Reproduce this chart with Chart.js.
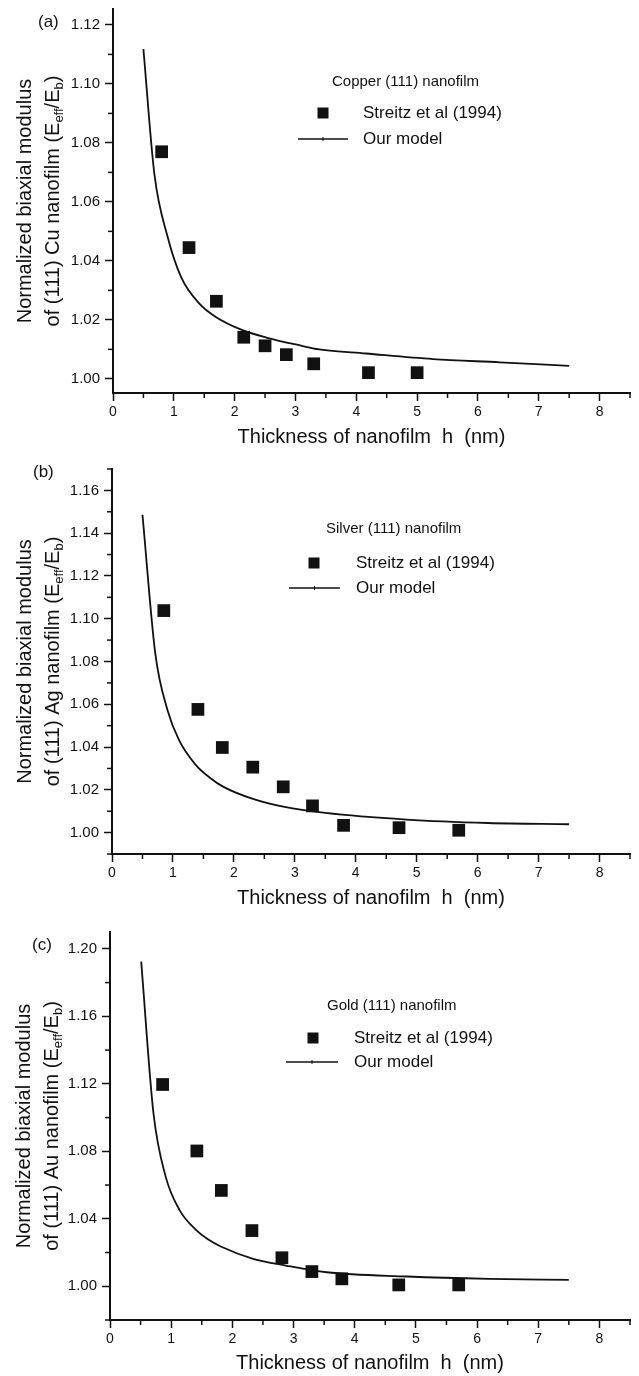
<!DOCTYPE html>
<html>
<head>
<meta charset="utf-8">
<script src="https://cdn.jsdelivr.net/npm/chart.js@4.4.1/dist/chart.umd.min.js"></script>
<style>
  body { margin: 0; background: #fff; }
  canvas { position: absolute; left: 0; }
</style>
</head>
<body>
<canvas id="chartA" width="639" height="455" style="top:0px"></canvas>
<canvas id="chartB" width="639" height="455" style="top:455px"></canvas>
<canvas id="chartC" width="639" height="466" style="top:910px"></canvas>
<script>
// ---- values ----
var xTickLabels = [0, 1, 2, 3, 4, 5, 6, 7, 8];

// (a) copper
var cuYTicks = [1.00, 1.02, 1.04, 1.06, 1.08, 1.10, 1.12];
var cuExpX = [0.8, 1.25, 1.7, 2.15, 2.5, 2.85, 3.3, 4.2, 5.0];
var cuExpY = [1.077, 1.0445, 1.0263, 1.0141, 1.0112, 1.0082, 1.0051, 1.0021, 1.0021];
var cuModelX = [0.5, 0.68, 0.9, 1.12, 1.42, 1.69, 2.13, 2.52, 3.06, 3.39, 4.16, 5.26, 6.36, 7.5];
var cuModelY = [1.1118, 1.0695, 1.048, 1.0345, 1.0255, 1.021, 1.0165, 1.014, 1.0114, 1.010, 1.0086, 1.0067, 1.0056, 1.0044];

// (b) silver
var agYTicks = [1.00, 1.02, 1.04, 1.06, 1.08, 1.10, 1.12, 1.14, 1.16];
var agExpX = [0.85, 1.41, 1.81, 2.31, 2.81, 3.29, 3.8, 4.71, 5.69];
var agExpY = [1.1038, 1.0576, 1.0398, 1.0306, 1.0214, 1.0125, 1.0034, 1.0023, 1.0011];
var agModelX = [0.5, 0.71, 0.91, 1.1, 1.37, 1.6, 1.83, 2.3, 2.83, 3.5, 4.83, 6.17, 7.5];
var agModelY = [1.1486, 1.0838, 1.0573, 1.0432, 1.0318, 1.0258, 1.0214, 1.0159, 1.012, 1.0092, 1.0061, 1.0045, 1.0039];

// (c) gold
var auYTicks = [1.00, 1.04, 1.08, 1.12, 1.16, 1.20];
var auExpX = [0.86, 1.42, 1.82, 2.32, 2.81, 3.3, 3.79, 4.72, 5.7];
var auExpY = [1.1196, 1.0802, 1.0568, 1.033, 1.0169, 1.0087, 1.0044, 1.0008, 1.0008];
var auModelX = [0.51, 0.71, 0.91, 1.14, 1.41, 1.6, 1.81, 2.34, 2.87, 3.54, 4.86, 6.19, 7.5];
var auModelY = [1.1924, 1.1027, 1.065, 1.045, 1.0333, 1.0278, 1.0236, 1.0163, 1.0123, 1.0083, 1.0058, 1.0044, 1.0038];

var FONT = '"Liberation Sans", Arial, Helvetica, sans-serif';
var INK = '#111';

function pts(xs, ys) {
  return xs.map(function (x, i) { return { x: x, y: ys[i] }; });
}
function inList(v, list) {
  return list.some(function (l) { return Math.abs(v - l) < 1e-6; });
}

// minor ticks, panel letter, two-line y title with subscripts, in-plot legend
function decor(p) {
  return {
    id: 'decor',
    afterDraw: function (chart) {
      var c = chart.ctx, xs = chart.scales.x, ys = chart.scales.y, area = chart.chartArea;
      c.save();
      c.fillStyle = INK;
      c.strokeStyle = INK;

      c.lineWidth = 1.5;
      xs.ticks.forEach(function (t) {
        if (inList(t.value, xTickLabels)) return;
        var px = xs.getPixelForValue(t.value);
        c.beginPath(); c.moveTo(px, area.bottom); c.lineTo(px, area.bottom + 5); c.stroke();
      });
      ys.ticks.forEach(function (t) {
        if (inList(t.value, p.yTicks)) return;
        var py = ys.getPixelForValue(t.value);
        c.beginPath(); c.moveTo(area.left, py); c.lineTo(area.left - 5, py); c.stroke();
      });

      c.textBaseline = 'middle';
      c.textAlign = 'left';
      c.font = '17px ' + FONT;
      c.fillText(p.tag, p.tagX, p.tagY);

      // y title
      var cy = (area.top + area.bottom) / 2;
      c.save();
      c.translate(p.t1x, cy);
      c.rotate(-Math.PI / 2);
      c.textAlign = 'center';
      c.font = '20px ' + FONT;
      c.fillText('Normalized biaxial modulus', 0, 0);
      c.restore();

      var parts = [
        ['of (111) ' + p.metal + ' nanofilm (E', false],
        ['eff', true], ['/E', false], ['b', true], [')', false]
      ];
      c.save();
      c.translate(p.t2x, cy);
      c.rotate(-Math.PI / 2);
      c.textAlign = 'left';
      var total = 0;
      parts.forEach(function (q) {
        c.font = (q[1] ? '13px ' : '20px ') + FONT;
        q.w = c.measureText(q[0]).width;
        total += q.w;
      });
      var x0 = -total / 2;
      parts.forEach(function (q) {
        c.font = (q[1] ? '13px ' : '20px ') + FONT;
        c.fillText(q[0], x0, q[1] ? 6 : 0);
        x0 += q.w;
      });
      c.restore();

      // legend
      var L = p.legend;
      c.font = '15px ' + FONT;
      c.fillText(p.header, L.hx, L.hy);
      c.fillRect(L.sx - 5.5, L.sy - 5.5, 11, 11);
      c.font = '17px ' + FONT;
      c.fillText('Streitz et al (1994)', L.tx, L.sy);
      c.lineWidth = 1.6;
      c.beginPath(); c.moveTo(L.lx1, L.ly); c.lineTo(L.lx2, L.ly); c.stroke();
      c.lineWidth = 1;
      var mx = (L.lx1 + L.lx2) / 2;
      c.beginPath(); c.moveTo(mx, L.ly - 2); c.lineTo(mx, L.ly + 2); c.stroke();
      c.fillText('Our model', L.tx, L.ly);
      c.restore();
    }
  };
}

function makePanel(id, p) {
  new Chart(document.getElementById(id), {
    type: 'scatter',
    data: {
      datasets: [
        {
          label: 'Our model',
          data: pts(p.modelX, p.modelY),
          showLine: true,
          borderColor: INK,
          borderWidth: 1.8,
          pointRadius: 0,
          cubicInterpolationMode: 'monotone',
          order: 2
        },
        {
          label: 'Streitz et al (1994)',
          data: pts(p.expX, p.expY),
          showLine: false,
          pointStyle: 'rect',
          pointRadius: 9,
          backgroundColor: INK,
          borderWidth: 0,
          order: 1
        }
      ]
    },
    options: {
      responsive: false,
      animation: false,
      layout: { padding: p.pad },
      plugins: { legend: { display: false }, tooltip: { enabled: false } },
      scales: {
        x: {
          type: 'linear',
          min: 0, max: 8.5,
          afterFit: function (s) { s.height = p.xH; s.paddingLeft = 0; s.paddingRight = 0; },
          border: { display: true, color: INK, width: 2 },
          grid: {
            drawOnChartArea: false, drawTicks: true, tickLength: 8, tickWidth: 1.5,
            tickColor: function (ctx) { return inList(ctx.tick.value, xTickLabels) ? INK : 'rgba(0,0,0,0)'; }
          },
          ticks: {
            stepSize: 0.5, includeBounds: false, autoSkip: false, maxRotation: 0,
            padding: 3, color: INK, font: { size: 14, family: FONT },
            callback: function (v) { return inList(v, xTickLabels) ? String(Math.round(v)) : ''; }
          },
          title: {
            display: true, text: 'Thickness of nanofilm  h  (nm)', color: INK,
            font: { size: 20, family: FONT }, padding: { top: 0, bottom: p.titlePadB }
          }
        },
        y: {
          type: 'linear',
          min: p.yMin, max: p.yMax,
          afterFit: function (s) { s.width = p.yW; s.paddingTop = 0; s.paddingBottom = 0; },
          border: { display: true, color: INK, width: 2 },
          grid: {
            drawOnChartArea: false, drawTicks: true, tickLength: 8, tickWidth: 1.5,
            tickColor: function (ctx) { return inList(ctx.tick.value, p.yTicks) ? INK : 'rgba(0,0,0,0)'; }
          },
          ticks: {
            stepSize: p.yStep, includeBounds: false, autoSkip: false,
            padding: 5, color: INK, font: { size: 15, family: FONT },
            callback: function (v) { return inList(v, p.yTicks) ? v.toFixed(2) : ''; }
          }
        }
      }
    },
    plugins: [decor(p)]
  });
}

makePanel('chartA', {
  tag: '(a)', tagX: 38, tagY: 22, metal: 'Cu', header: 'Copper (111) nanofilm',
  t1x: 25, t2x: 53,
  pad: { left: 0, right: 8, top: 8, bottom: 0 }, yW: 113, xH: 62, titlePadB: 6,
  yMin: 0.9952, yMax: 1.1254, yStep: 0.01, yTicks: cuYTicks,
  expX: cuExpX, expY: cuExpY, modelX: cuModelX, modelY: cuModelY,
  legend: { hx: 332, hy: 82, sx: 323, sy: 113, tx: 363, lx1: 298, lx2: 348, ly: 139 }
});

makePanel('chartB', {
  tag: '(b)', tagX: 33, tagY: 17, metal: 'Ag', header: 'Silver (111) nanofilm',
  t1x: 25, t2x: 53,
  pad: { left: 0, right: 8, top: 14, bottom: 0 }, yW: 112, xH: 56, titlePadB: 0,
  yMin: 0.99, yMax: 1.17, yStep: 0.01, yTicks: agYTicks,
  expX: agExpX, expY: agExpY, modelX: agModelX, modelY: agModelY,
  legend: { hx: 326, hy: 74, sx: 314, sy: 108, tx: 356, lx1: 289, lx2: 340, ly: 133 }
});

makePanel('chartC', {
  tag: '(c)', tagX: 32, tagY: 35, metal: 'Au', header: 'Gold (111) nanofilm',
  t1x: 24, t2x: 52,
  pad: { left: 0, right: 9, top: 22, bottom: 0 }, yW: 110, xH: 56, titlePadB: 1,
  yMin: 0.98, yMax: 1.21, yStep: 0.02, yTicks: auYTicks,
  expX: auExpX, expY: auExpY, modelX: auModelX, modelY: auModelY,
  legend: { hx: 327, hy: 96, sx: 313, sy: 128, tx: 354, lx1: 286, lx2: 338, ly: 152 }
});
</script>
</body>
</html>
